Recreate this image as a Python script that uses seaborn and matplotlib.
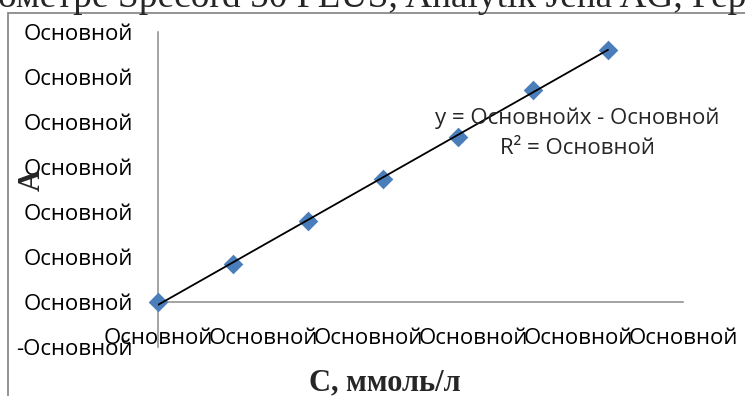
import matplotlib
matplotlib.use("Agg")
import matplotlib.pyplot as plt
from matplotlib.patches import Rectangle
import seaborn as sns
import pandas as pd

# ---- data ----
conc = [0.0, 0.0714, 0.1429, 0.2143, 0.2857, 0.3571, 0.4286]
absorb = [0.0, 0.084, 0.180, 0.273, 0.367, 0.471, 0.560]
x_ticks = [0.0, 0.1, 0.2, 0.3, 0.4, 0.5]
x_tick_labels = ["Основной"] * 6
y_ticks = [-0.1, 0.0, 0.1, 0.2, 0.3, 0.4, 0.5, 0.6]
y_tick_labels = ["-Основной"] + ["Основной"] * 7
title_text = "ометре Specord 50 PLUS, Analytik Jena AG, Германия"
x_label = "С, ммоль/л"
y_label = "А"
eq_line1 = "y = Основнойx - Основной"
eq_line2 = "R² = Основной"

df = pd.DataFrame({"C": conc, "A": absorb})

sns.set_style("white")
plt.rcParams["font.family"] = ["Open Sans", "DejaVu Sans"]

W, H = 745, 396
fig = plt.figure(figsize=(W / 100, H / 100), dpi=100)

def fx(px):
    return px / W

def fy(py):
    return 1 - py / H

# axes: x 158..683, y 31.5..347
ax = fig.add_axes([fx(158), fy(347), fx(683) - fx(158), (347 - 31.5) / H])

sns.scatterplot(data=df, x="C", y="A", ax=ax, marker="D", s=100,
                color="#4A7EBB", linewidth=0, zorder=3, clip_on=False)
sns.regplot(data=df, x="C", y="A", ax=ax, scatter=False, ci=None,
            color="black", line_kws={"linewidth": 1.3, "zorder": 4})

ax.set_xlim(0, 0.5)
ax.set_ylim(-0.1, 0.6)
ax.set_xticks(x_ticks)
ax.set_xticklabels(x_tick_labels)
ax.set_yticks(y_ticks)
ax.set_yticklabels(y_tick_labels)

spine_color = "#8a8a8a"
for side in ["top", "right"]:
    ax.spines[side].set_visible(False)
ax.spines["bottom"].set_position(("data", 0))
ax.spines["left"].set_color(spine_color)
ax.spines["bottom"].set_color(spine_color)
ax.spines["left"].set_linewidth(1.1)
ax.spines["bottom"].set_linewidth(1.1)

ax.tick_params(axis="both", length=0, labelsize=16, colors="black")
ax.tick_params(axis="y", pad=18)
ax.tick_params(axis="x", pad=19)
ax.set_xlabel("")
ax.set_ylabel("")

# axis titles
fig.text(fx(385), fy(390), x_label, ha="center", va="baseline",
         family=["Liberation Serif", "DejaVu Serif"], fontweight="bold", fontsize=22)
fig.text(fx(32), fy(180), y_label, ha="center", va="center", rotation=90,
         family=["Liberation Serif", "DejaVu Serif"], fontweight="bold", fontsize=22)

# trendline equation
fig.text(fx(577), fy(118), eq_line1, ha="center", va="center", fontsize=16)
fig.text(fx(577), fy(149), eq_line2, ha="center", va="center", fontsize=16)

# clipped document caption above the chart
fig.text(fx(-2), fy(7), title_text, ha="left", va="baseline",
         family=["Liberation Serif", "DejaVu Serif"], fontsize=27)

# chart area border
fig.patches.append(Rectangle((fx(8), fy(13) - 2), 2, 2, transform=fig.transFigure,
                             fill=False, edgecolor="#8a8a8a", linewidth=1.3))

fig.savefig("out.png", dpi=100)
